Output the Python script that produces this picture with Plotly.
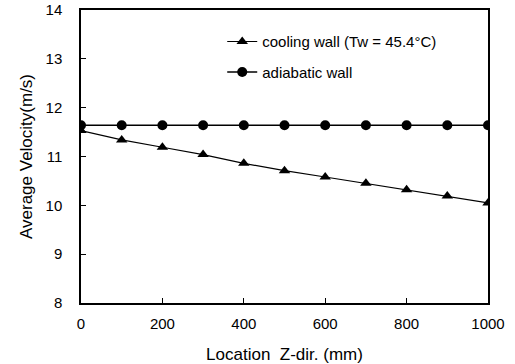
import plotly.graph_objects as go

location = [0, 100, 200, 300, 400, 500, 600, 700, 800, 900, 1000]
cooling = [11.53, 11.34, 11.19, 11.04, 10.86, 10.71, 10.58, 10.45, 10.32, 10.19, 10.05]
adiabatic = [11.64, 11.64, 11.64, 11.64, 11.64, 11.64, 11.64, 11.64, 11.64, 11.64, 11.64]
x_ticks = [0, 200, 400, 600, 800, 1000]
y_ticks = [8, 9, 10, 11, 12, 13, 14]

FONT = "Liberation Sans, Arial, sans-serif"

fig = go.Figure()
fig.add_trace(go.Scatter(
    x=location, y=cooling, mode="lines+markers", name="cooling wall (Tw = 45.4°C)",
    line=dict(color="black", width=1.2),
    marker=dict(symbol="triangle-up", size=10, color="black"),
    legendgroup="a",
))
fig.add_trace(go.Scatter(
    x=location, y=adiabatic, mode="lines+markers", name="adiabatic wall",
    line=dict(color="black", width=1.5),
    marker=dict(symbol="circle", size=10, color="black"),
    legendgroup="b",
))

axis_common = dict(
    showline=True, linecolor="black", linewidth=1.5, mirror=True,
    ticks="inside", ticklen=5, tickcolor="black", tickwidth=1.2,
    showgrid=False, zeroline=False, automargin=False,
    tickfont=dict(family=FONT, size=15, color="black"),
)

fig.update_layout(
    width=515, height=364,
    margin=dict(l=81, r=27, t=10, b=61),
    paper_bgcolor="white", plot_bgcolor="white",
    font=dict(family=FONT, color="black"),
    showlegend=True,
    legend=dict(
        x=0.347, y=0.948, xanchor="left", yanchor="top",
        bgcolor="rgba(0,0,0,0)", borderwidth=0,
        font=dict(family=FONT, size=15, color="black"),
        traceorder="grouped", tracegroupgap=8,
    ),
    xaxis=dict(
        range=[0, 1000], tickvals=x_ticks, ticklabelstandoff=6,
        title=dict(text="Location  Z-dir. (mm)", font=dict(family=FONT, size=17, color="black"), standoff=18),
        **axis_common,
    ),
    yaxis=dict(
        range=[8, 14], tickvals=y_ticks, ticklabelstandoff=14,
        title=dict(text="Average Velocity(m/s)", font=dict(family=FONT, size=17, color="black"), standoff=9),
        **axis_common,
    ),
)

fig.write_html("out.html")
